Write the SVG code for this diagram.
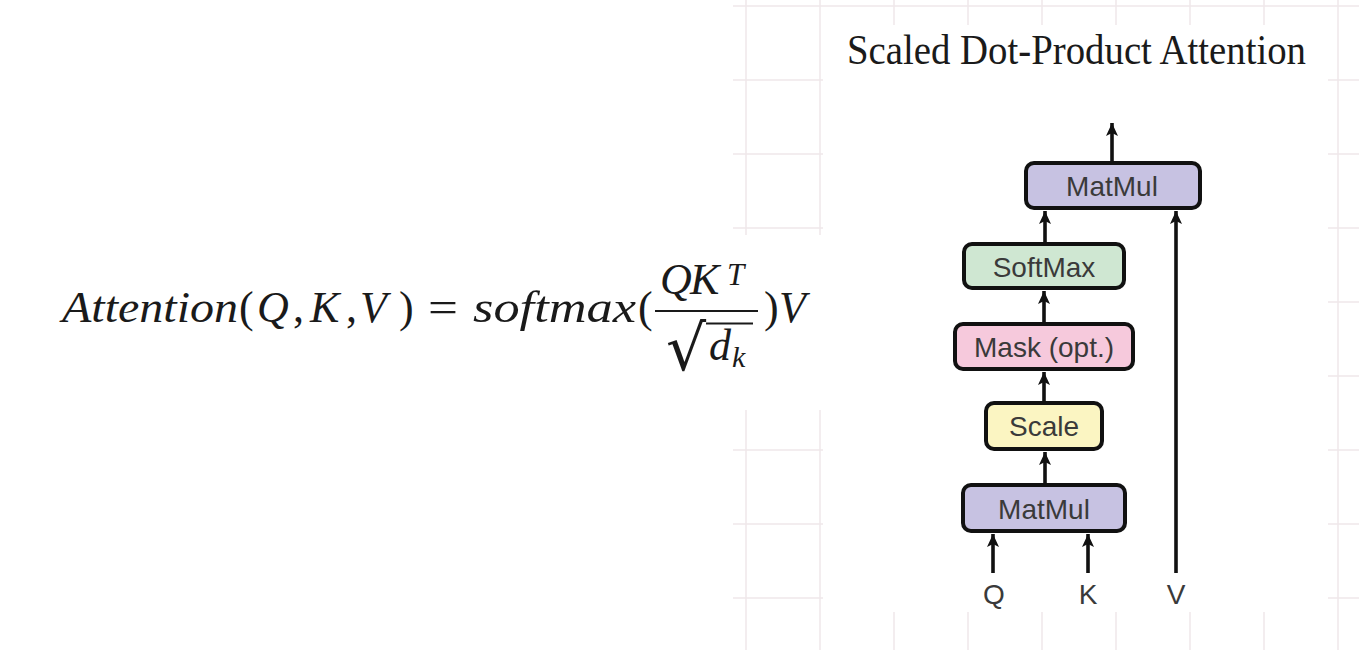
<svg xmlns="http://www.w3.org/2000/svg" width="1359" height="650" viewBox="0 0 1359 650">
<defs>
<marker id="ah" viewBox="0 0 13 12" refX="13" refY="6" markerWidth="13" markerHeight="12" markerUnits="userSpaceOnUse" orient="auto">
<path d="M0,0 L13,6 L0,12 L3,6 z" fill="#111"/>
</marker>
</defs>
<style>
.grid line{stroke:#efe7ea;stroke-width:1.5}
.box{stroke:#111;stroke-width:4}
.lbl{font-family:"Liberation Sans",Arial,sans-serif;font-size:28px;fill:#3a3a3a;text-anchor:middle}
.conn line{stroke:#111;stroke-width:3.6;marker-end:url(#ah)}
.mi{font-family:"Liberation Serif","Times New Roman",serif;font-style:italic;font-size:44px;fill:#1a1a1a}
.mr{font-family:"Liberation Serif","Times New Roman",serif;font-size:44px;fill:#1a1a1a}
</style>
<rect x="0" y="0" width="1359" height="650" fill="#ffffff"/>
<g class="grid">
<line x1="746" y1="0" x2="746" y2="650"/><line x1="820" y1="0" x2="820" y2="650"/>
<line x1="894" y1="0" x2="894" y2="650"/><line x1="968" y1="0" x2="968" y2="650"/>
<line x1="1042" y1="0" x2="1042" y2="650"/><line x1="1116" y1="0" x2="1116" y2="650"/>
<line x1="1190" y1="0" x2="1190" y2="650"/><line x1="1264" y1="0" x2="1264" y2="650"/>
<line x1="1338" y1="0" x2="1338" y2="650"/>
<line x1="733" y1="6" x2="1359" y2="6"/><line x1="733" y1="80" x2="1359" y2="80"/>
<line x1="733" y1="154" x2="1359" y2="154"/><line x1="733" y1="228" x2="1359" y2="228"/>
<line x1="733" y1="302" x2="1359" y2="302"/><line x1="733" y1="376" x2="1359" y2="376"/>
<line x1="733" y1="450" x2="1359" y2="450"/><line x1="733" y1="524" x2="1359" y2="524"/>
<line x1="733" y1="598" x2="1359" y2="598"/>
</g>
<rect x="823" y="25" width="505" height="587" fill="#ffffff"/>
<rect x="733" y="235" width="90" height="175" fill="#ffffff"/>
<rect x="0" y="0" width="733" height="650" fill="#ffffff"/>

<g id="formula">
<text class="mi" x="62" y="322" textLength="176" lengthAdjust="spacingAndGlyphs">Attention</text>
<text class="mr" x="239" y="322">(</text>
<text class="mi" x="257" y="322">Q</text>
<text class="mr" x="293" y="322">,</text>
<text class="mi" x="310" y="322">K</text>
<text class="mr" x="346" y="322">,</text>
<text class="mi" x="360" y="322">V</text>
<text class="mr" x="399" y="322">)</text>
<text class="mr" x="428" y="322" textLength="30" lengthAdjust="spacingAndGlyphs">=</text>
<text class="mi" x="473" y="322" textLength="163" lengthAdjust="spacingAndGlyphs">softmax</text>
<text class="mr" x="638" y="322">(</text>
<text class="mi" x="660" y="294">Q</text>
<text class="mi" x="690" y="294">K</text>
<text class="mi" x="727" y="285" style="font-size:31px">T</text>
<line x1="655" y1="311" x2="758" y2="311" stroke="#1a1a1a" stroke-width="2"/>
<text x="666" y="370" style="font-family:'DejaVu Serif',serif;font-size:63px;fill:#1a1a1a">√</text>
<line x1="706" y1="323.5" x2="753" y2="323.5" stroke="#1a1a1a" stroke-width="2"/>
<text class="mi" x="709" y="360">d</text>
<text class="mi" x="732" y="367" style="font-size:30px">k</text>
<text class="mr" x="764" y="322">)</text>
<text class="mi" x="779" y="322">V</text>
</g>

<g id="title">
<text x="847" y="64" style="font-family:'Liberation Serif','Times New Roman',serif;font-size:42px;fill:#1a1a1a" textLength="459" lengthAdjust="spacingAndGlyphs">Scaled Dot-Product Attention</text>
</g>

<g id="matmul-top">
<rect class="box" x="1026" y="163" width="174" height="45" rx="8" fill="#c7c2e2"/>
<text class="lbl" x="1112" y="196">MatMul</text>
</g>
<g id="softmax">
<rect class="box" x="964" y="244" width="160" height="44" rx="8" fill="#cfe7d2"/>
<text class="lbl" x="1044" y="277">SoftMax</text>
</g>
<g id="mask">
<rect class="box" x="955" y="324" width="178" height="45" rx="8" fill="#f6c9dc"/>
<text class="lbl" x="1044" y="357">Mask (opt.)</text>
</g>
<g id="scale">
<rect class="box" x="986" y="403" width="116" height="46" rx="8" fill="#fbf5c2"/>
<text class="lbl" x="1044" y="436">Scale</text>
</g>
<g id="matmul-bottom">
<rect class="box" x="963" y="485" width="162" height="46" rx="8" fill="#c7c2e2"/>
<text class="lbl" x="1044" y="519">MatMul</text>
</g>
<g id="inputs">
<text class="lbl" x="994" y="604">Q</text>
<text class="lbl" x="1088" y="604">K</text>
<text class="lbl" x="1176" y="604">V</text>
</g>

<g class="conn" id="connectors">
<line x1="1112" y1="161" x2="1112" y2="123"/>
<line x1="1045" y1="242" x2="1045" y2="211"/>
<line x1="1044" y1="322" x2="1044" y2="291"/>
<line x1="1044" y1="401" x2="1044" y2="372"/>
<line x1="1045" y1="483" x2="1045" y2="452"/>
<line x1="993" y1="573" x2="993" y2="534"/>
<line x1="1088" y1="573" x2="1088" y2="534"/>
<line x1="1176" y1="573" x2="1176" y2="211"/>
</g>
</svg>
